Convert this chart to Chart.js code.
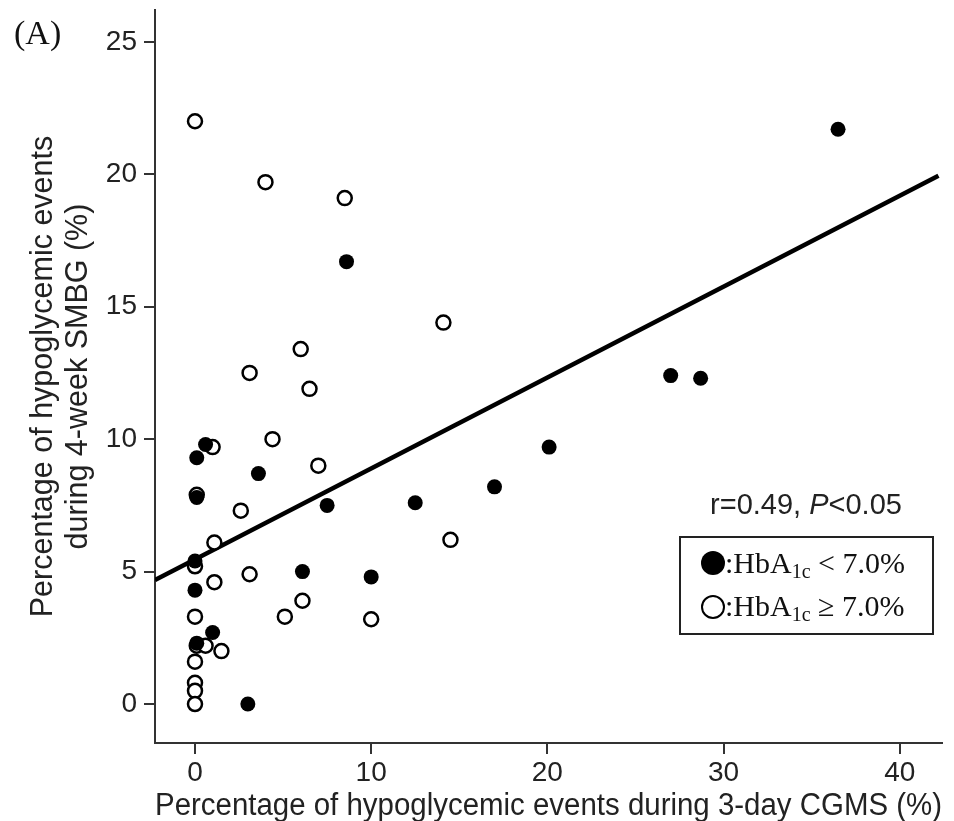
<!DOCTYPE html>
<html>
<head>
<meta charset="utf-8">
<script src="https://cdn.jsdelivr.net/npm/chart.js@4/dist/chart.umd.min.js"></script>
<style>
  html, body { margin: 0; padding: 0; background: #fff; }
  #wrap { width: 954px; height: 821px; position: relative; }
</style>
</head>
<body>
<div id="wrap"><canvas id="c"></canvas></div>
<script>
// ---- data ----
const filledX = [36.5, 8.6, 27.0, 28.7, 20.1, 0.6, 0.1, 3.6, 17.0, 12.5, 7.5, 0.1, 0.0, 6.1, 10.0, 0.0, 1.0, 0.1, 3.0];
const filledY = [21.7, 16.7, 12.4, 12.3, 9.7, 9.8, 9.3, 8.7, 8.2, 7.6, 7.5, 7.8, 5.4, 5.0, 4.8, 4.3, 2.7, 2.3, 0.0];
const openX = [0, 4.0, 8.5, 14.1, 6.0, 3.1, 6.5, 1.0, 4.4, 7.0, 0.1, 2.6, 1.1, 14.5, 0, 3.1, 1.1, 6.1, 5.1, 10.0, 0, 0.1, 0.6, 1.5, 0, 0, 0, 0];
const openY = [22.0, 19.7, 19.1, 14.4, 13.4, 12.5, 11.9, 9.7, 10.0, 9.0, 7.9, 7.3, 6.1, 6.2, 5.2, 4.9, 4.6, 3.9, 3.3, 3.2, 3.3, 2.2, 2.2, 2.0, 1.6, 0.8, 0.5, 0.0];
const fitX = [-2.27, 42.2];
const fitY = [4.68, 19.94];
const xTicks = [0, 10, 20, 30, 40];
const yTicks = [0, 5, 10, 15, 20, 25];
const xTitle = 'Percentage of hypoglycemic events during 3-day CGMS (%)';
const yTitle = ['Percentage of hypoglycemic events', 'during 4-week SMBG (%)'];
const statText = ['r=0.49, ', 'P', '<0.05'];
const legendLabels = [[':HbA', '1c', ' < 7.0%'], [':HbA', '1c', ' \u2265 7.0%']];
const panelLabel = '(A)';

const toPts = (xs, ys) => xs.map((x, i) => ({x: x, y: ys[i]}));

const SANS = '"Liberation Sans", Arial, Helvetica, sans-serif';
const SERIF = '"Liberation Serif", "Times New Roman", serif';

const overlay = {
  id: 'overlay',
  afterDraw(chart) {
    const ctx = chart.ctx;
    ctx.save();
    // panel label
    ctx.fillStyle = '#111';
    ctx.font = '34px ' + SERIF;
    ctx.textAlign = 'left';
    ctx.textBaseline = 'alphabetic';
    ctx.fillText(panelLabel, 14, 44);

    // stat text, centred
    const sx = 806, sy = 514;
    const fs = 29;
    ctx.font = fs + 'px ' + SANS;
    const w0 = ctx.measureText(statText[0]).width;
    ctx.font = 'italic ' + fs + 'px ' + SANS;
    const w1 = ctx.measureText(statText[1]).width;
    ctx.font = fs + 'px ' + SANS;
    const w2 = ctx.measureText(statText[2]).width;
    let x = sx - (w0 + w1 + w2) / 2;
    ctx.fillStyle = '#222';
    ctx.fillText(statText[0], x, sy); x += w0;
    ctx.font = 'italic ' + fs + 'px ' + SANS;
    ctx.fillText(statText[1], x, sy); x += w1;
    ctx.font = fs + 'px ' + SANS;
    ctx.fillText(statText[2], x, sy);

    // legend box
    ctx.strokeStyle = '#222';
    ctx.lineWidth = 2;
    ctx.strokeRect(680, 537, 253, 97);
    const rows = [573, 616];
    const cy = [563, 607];
    // filled marker
    ctx.beginPath();
    ctx.arc(713, cy[0], 12, 0, Math.PI * 2);
    ctx.fillStyle = '#000';
    ctx.fill();
    // open marker
    ctx.beginPath();
    ctx.arc(713, cy[1], 11, 0, Math.PI * 2);
    ctx.lineWidth = 2;
    ctx.strokeStyle = '#000';
    ctx.stroke();
    ctx.fillStyle = '#111';
    legendLabels.forEach((parts, i) => {
      let lx = 725;
      ctx.font = '30px ' + SERIF;
      ctx.fillText(parts[0], lx, rows[i]);
      lx += ctx.measureText(parts[0]).width;
      ctx.font = '20px ' + SERIF;
      ctx.fillText(parts[1], lx, rows[i] + 5);
      lx += ctx.measureText(parts[1]).width;
      ctx.font = '30px ' + SERIF;
      ctx.fillText(parts[2], lx, rows[i]);
    });
    ctx.restore();
  }
};

new Chart(document.getElementById('c'), {
  type: 'scatter',
  data: {
    datasets: [
      {
        label: 'HbA1c < 7.0%',
        data: toPts(filledX, filledY),
        pointRadius: 7.5,
        pointBackgroundColor: '#000',
        pointBorderColor: '#000',
        pointBorderWidth: 0,
        order: 0
      },
      {
        label: 'HbA1c >= 7.0%',
        data: toPts(openX, openY),
        pointRadius: 7,
        pointBackgroundColor: '#fff',
        pointBorderColor: '#000',
        pointBorderWidth: 2.5,
        order: 1
      },
      {
        type: 'line',
        label: 'fit',
        data: toPts(fitX, fitY),
        borderColor: '#000',
        borderWidth: 4.5,
        pointRadius: 0,
        fill: false,
        order: 2
      }
    ]
  },
  options: {
    responsive: true,
    maintainAspectRatio: false,
    animation: false,
    layout: { padding: { top: 10, right: 12, left: 0, bottom: 0 } },
    plugins: {
      legend: { display: false },
      tooltip: { enabled: false },
      title: { display: false }
    },
    scales: {
      x: {
        type: 'linear',
        min: -2.27,
        max: 42.4,
        afterFit(s) { s.height = 78; s.paddingLeft = 0; s.paddingRight = 0; },
        afterBuildTicks(s) { s.ticks = xTicks.map(v => ({value: v})); },
        border: { display: true, color: '#333', width: 2 },
        grid: { display: true, drawOnChartArea: false, drawTicks: true, tickLength: 11, color: '#333', lineWidth: 2 },
        ticks: { color: '#222', padding: 2, font: { family: SANS, size: 28 }, maxRotation: 0 },
        title: {
          display: true, text: xTitle, color: '#222',
          font: { family: SANS, size: 31, lineHeight: 1.2 },
          padding: { top: 0, bottom: -4 }
        }
      },
      y: {
        type: 'linear',
        min: -1.47,
        max: 26.2,
        afterFit(s) { s.width = 155; s.paddingTop = 0; s.paddingBottom = 0; },
        afterBuildTicks(s) { s.ticks = yTicks.map(v => ({value: v})); },
        border: { display: true, color: '#333', width: 2 },
        grid: { display: true, drawOnChartArea: false, drawTicks: true, tickLength: 11, color: '#333', lineWidth: 2 },
        ticks: { color: '#222', padding: 7, font: { family: SANS, size: 28 } },
        title: {
          display: true, text: yTitle, color: '#222',
          font: { family: SANS, size: 30.5, lineHeight: 1.15 },
          padding: { top: 26, bottom: 0 }
        }
      }
    }
  },
  plugins: [overlay]
});
</script>
</body>
</html>
